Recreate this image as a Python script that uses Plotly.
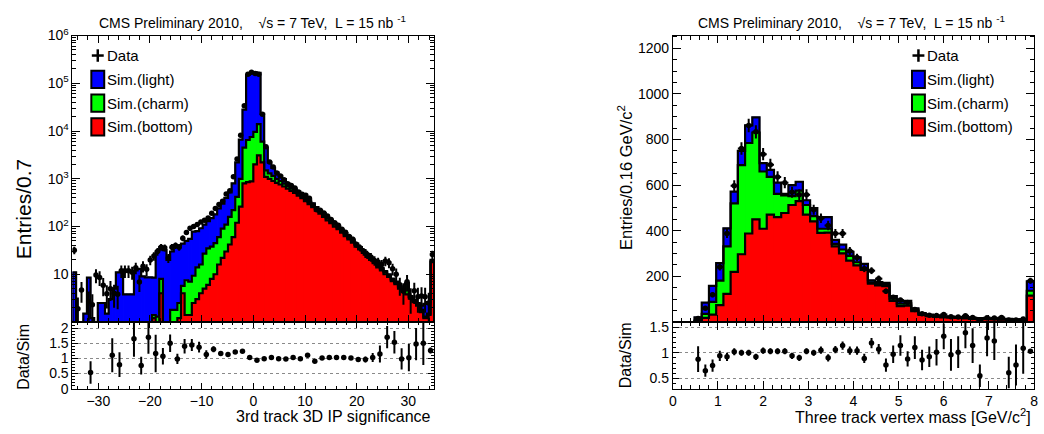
import numpy as np
import plotly.graph_objects as go

W, H = 1044, 434
FONT = "Liberation Sans, Arial, Helvetica, sans-serif"

# ---------------- Left panel: 3rd track 3D IP significance ----------------
ip_lo, ip_hi, ip_binw = -35.0, 35.0, 0.7
# stacked tops: total (light+charm+bottom), charm+bottom, bottom
ip_sim_total = [
    11, 0, 0, 1.5, 8.5, 1.2, 0, 2.5, 2.5, 1.5,
    3, 5, 11, 11, 3.8, 3.8, 3.8, 12, 13, 9,
    8.6, 8.6, 8.5, 30, 37, 32, 20, 30, 38, 40,
    44, 50, 55, 78, 80, 92, 110, 130, 150, 180,
    240, 300, 400, 520, 800, 2200, 6600, 28000, 150000, 165000,
    170000, 165000, 23000, 4500, 2200, 1700, 1350, 1150, 980, 800,
    700, 620, 540, 475, 410, 355, 305, 255, 218, 190,
    160, 138, 118, 103, 86, 73, 62, 53, 44, 37,
    32, 26.5, 22.5, 19, 16, 13.7, 11.6, 9.9, 8.1, 7,
    5.7, 4.9, 6.6, 3.5, 2.9, 2.5, 2.2, 2.4, 2.6, 20]
ip_sim_charm_bottom = [
    0, 0, 0, 0, 0, 0, 0, 0, 0, 0,
    0, 0, 0, 0, 0, 0, 0, 0, 0, 0,
    0, 0, 1.4, 1.3, 8, 0, 0, 1.8, 1.8, 2.5,
    5.7, 7.5, 7, 9.3, 14, 16, 27, 35, 38, 45,
    60, 90, 110, 160, 220, 420, 1000, 4500, 6500, 7500,
    9600, 14000, 6000, 1500, 1300, 1150, 1000, 900, 790, 700,
    625, 560, 490, 435, 375, 325, 280, 235, 202, 175,
    148, 128, 109, 96, 80, 68, 58, 50, 41, 35,
    30, 25, 21, 18, 15, 13, 11, 9.4, 7.7, 6.6,
    5.4, 4.7, 6.3, 3.3, 2.8, 2.4, 1.8, 1.3, 1.5, 19]
ip_sim_bottom = [
    0, 0, 0, 0, 0, 0, 0, 0, 0, 0,
    0, 0, 0, 0, 0, 0, 0, 0, 0, 0,
    0, 0, 1.2, 0, 4, 0, 0, 0, 0, 1.2,
    4, 1.4, 1.4, 2.5, 3, 4, 5, 6, 8, 10,
    16, 22, 30, 42, 60, 120, 260, 800, 850, 880,
    2000, 3100, 2200, 1100, 1000, 900, 820, 760, 690, 620,
    560, 505, 445, 395, 340, 295, 255, 215, 185, 160,
    135, 118, 100, 88, 74, 63, 54, 46, 38, 33,
    28, 23, 20, 17, 14, 12, 10, 8.8, 7.2, 6.2,
    5, 4.4, 3.8, 3.1, 2.6, 2.2, 1.6, 1.2, 1.4, 18]
ip_data = [
    32, 1.9, 4.7, None, 2.7, 2.3, 9.6, 8.6, 5.9, 3.9,
    5, 4, 3.8, 11.8, 11.8, 11.8, 11, 13.7, 6.9, 14.8,
    12.7, 20, 24, 30, 37, 36, 22, 37, 40, 37,
    57, 75, 92, 100, 110, 125, 135, 150, 190, 240,
    290, 340, 480, 560, 1100, 2600, 8200, 34000, 155000, 170000,
    160000, 155000, 22500, 4700, 2250, 1770, 1330, 1140, 960, 785,
    720, 640, 530, 475, 450, 390, 280, 225, 220, 192,
    166, 141, 120, 107, 88, 76, 62, 54, 42, 36,
    30, 26, 23, 19.5, 18, 16, 19, 17.5, 13, 10,
    6, 4.4, 7, 3.3, 4.5, 3.4, 3.5, 3.4, 2.5, 26]
ip_ratio_x = [-31.5, -27.3, -25.9, -23.1, -21.7, -20.3, -18.9, -17.5, -16.1, -14.7,
              -13.3, -11.9, -10.5, -9.1, -7.7, -6.3, -4.9, -3.5, -2.1, -0.7,
              0.7, 2.1, 3.5, 4.9, 6.3, 7.7, 9.1, 10.5, 11.9, 13.3,
              14.7, 16.1, 17.5, 18.9, 20.3, 21.7, 23.1, 24.5, 25.9, 27.3,
              28.7, 30.1, 31.5, 32.9, 34.3]
ip_ratio = [0.53, 1.1, 0.79, 1.65, 0.76, 1.7, 1.16, 1.07, 1.5, 0.98,
            1.4, 1.44, 1.37, 1.13, 1.3, 1.16, 1.13, 1.21, 1.23, 1.03,
            0.94, 0.99, 1.03, 0.99, 0.98, 1.03, 0.99, 1.1, 0.9, 1.01,
            1.03, 1.03, 1.03, 1.01, 0.96, 0.96, 1.03, 1.14, 1.7, 1.53,
            0.98, 1.02, 1.47, 1.5, 1.26]
ip_ratio_err = [0.37, 0.56, 0.41, 0.6, 0.29, 0.55, 0.62, 0.27, 0.29, 0.17,
                0.24, 0.2, 0.18, 0.14, 0.1, 0.08, 0.06, 0.05, 0.04, 0.03,
                0.03, 0.03, 0.03, 0.03, 0.03, 0.03, 0.03, 0.04, 0.04, 0.04,
                0.04, 0.05, 0.05, 0.06, 0.08, 0.1, 0.15, 0.28, 0.37, 0.37,
                0.35, 0.45, 0.53, 0.72, 0.1]

# ---------------- Right panel: three track vertex mass ----------------
m_lo, m_hi, m_binw = 0.0, 8.0, 0.16
m_sim_total = [
    0, 0, 0, 20, 85, 158, 258, 411, 572, 750,
    862, 897, 697, 667, 611, 562, 600, 615, 534, 499,
    460, 460, 360, 339, 308, 283, 255, 183, 175, 172,
    114, 93, 93, 60, 39, 32, 28, 25, 24, 22,
    20, 18, 17, 15, 15, 13, 14, 12, 12, 178]
m_sim_charm_bottom = [
    0, 0, 0, 6, 36, 88, 181, 332, 520, 688,
    785, 831, 660, 636, 562, 555, 552, 576, 513, 464,
    409, 409, 343, 318, 290, 262, 236, 174, 166, 164,
    102, 81, 82, 54, 35, 29, 25, 23, 22, 20,
    18, 16, 15, 14, 13, 12, 12, 11, 11, 137]
m_sim_bottom = [
    0, 0, 0, 3, 18, 32, 74, 123, 220, 297,
    388, 450, 409, 471, 460, 478, 513, 530, 471, 441,
    391, 392, 332, 301, 269, 248, 228, 168, 160, 157,
    92, 70, 72, 48, 31, 26, 22, 20, 19, 18,
    16, 14, 13, 12, 12, 10, 10, 9, 9, 116]
m_data = [
    None, None, None, 15, 60, 120, 241, 388, 597, 761,
    862, 834, 736, 690, 636, 611, 569, 558, 558, 492,
    455, 423, 388, 388, 311, 283, 234, 225, 190, 135,
    108, 96, 85, 55, 36, 30, 29, 33, 23, 22,
    27, 20, 9, 19, 18, 20, 8.5, 9, 13, 181]
m_ratio_x = [0.56, 0.72, 0.88, 1.04, 1.2, 1.36, 1.52, 1.68, 1.84, 2.0,
             2.16, 2.32, 2.48, 2.64, 2.8, 2.96, 3.12, 3.28, 3.44, 3.6,
             3.76, 3.92, 4.08, 4.24, 4.4, 4.56, 4.72, 4.88, 5.04, 5.2,
             5.36, 5.52, 5.68, 5.84, 6.0, 6.16, 6.32, 6.48, 6.64, 6.8,
             6.96, 7.12, 7.44, 7.6, 7.76, 7.92]
m_ratio = [0.875, 0.65, 0.75, 0.94, 0.92, 1.02, 1.0, 1.0, 0.92, 1.04,
           1.03, 1.03, 1.03, 0.94, 0.9, 1.03, 1.0, 1.05, 0.9, 1.06,
           1.14, 1.04, 1.04, 0.89, 1.19, 1.07, 0.76, 0.97, 1.14, 0.88,
           1.1, 0.86, 0.92, 1.01, 1.32, 0.96, 1.01, 1.39, 1.14, 0.55,
           1.29, 1.23, 0.61, 0.76, 1.09, 1.03]
m_ratio_err = [0.25, 0.12, 0.12, 0.1, 0.08, 0.07, 0.06, 0.06, 0.06, 0.06,
               0.06, 0.06, 0.06, 0.06, 0.06, 0.06, 0.06, 0.07, 0.07, 0.07,
               0.08, 0.08, 0.08, 0.09, 0.1, 0.1, 0.13, 0.17, 0.2, 0.15,
               0.22, 0.2, 0.2, 0.26, 0.25, 0.31, 0.31, 0.3, 0.34, 0.22,
               0.36, 0.37, 0.31, 0.4, 0.5, 0.02]

COLORS = ["#0000FF", "#00FF00", "#FF0000"]
LEGEND_LABELS = ["Sim.(light)", "Sim.(charm)", "Sim.(bottom)"]
TITLE = "CMS Preliminary 2010,\u00a0\u00a0\u00a0 \u221as = 7 TeV,\u00a0 L = 15 nb <sup>-1</sup>"


def fx(p):
    return p / W


def fy(p):
    return 1 - p / H


fig = go.Figure()


def add_hist(xa, ya, lo, w, tops, floor):
    n = len(tops[0])
    centers = [lo + w * (i + 0.5) for i in range(n)]
    edges = [lo + w * i for i in range(n + 1)]
    for vals, col in zip(tops, COLORS):
        fig.add_trace(go.Bar(
            x=centers, y=[v if v > 0 else None for v in vals], width=w,
            marker=dict(color=col, line=dict(color=col, width=1.2)),
            xaxis=xa, yaxis=ya, showlegend=False, hoverinfo="skip"))
    for vals in tops:
        xs = [edges[0]] + edges[:n] + [edges[n]]
        ys = [floor] + [v if v > 0 else floor for v in vals] + [floor]
        fig.add_trace(go.Scatter(
            x=xs, y=ys, mode="lines", line=dict(color="black", width=2.2, shape="hv"),
            xaxis=xa, yaxis=ya, showlegend=False, hoverinfo="skip"))
    return centers


def add_data(xa, ya, centers, data, w):
    err = [None if d is None else float(np.sqrt(d)) for d in data]
    fig.add_trace(go.Scatter(
        x=centers, y=data, mode="markers",
        marker=dict(color="black", size=5.5),
        error_y=dict(type="data", array=err, thickness=2, width=0, color="black"),
        error_x=dict(type="constant", value=w / 2, thickness=2, width=0, color="black"),
        xaxis=xa, yaxis=ya, showlegend=False, hoverinfo="skip"))


def add_ratio(xa, ya, xs, r, e):
    fig.add_trace(go.Scatter(
        x=xs, y=r, mode="markers", marker=dict(color="black", size=5.5),
        error_y=dict(type="data", array=e, thickness=2, width=0, color="black"),
        xaxis=xa, yaxis=ya, showlegend=False, hoverinfo="skip"))


c_ip = add_hist("x", "y", ip_lo, ip_binw, [ip_sim_total, ip_sim_charm_bottom, ip_sim_bottom], 0.01)
add_data("x", "y", c_ip, ip_data, ip_binw)
add_ratio("x2", "y2", ip_ratio_x, ip_ratio, ip_ratio_err)

c_m = add_hist("x3", "y3", m_lo, m_binw, [m_sim_total, m_sim_charm_bottom, m_sim_bottom], 0)
add_data("x3", "y3", c_m, m_data, m_binw)
add_ratio("x4", "y4", m_ratio_x, m_ratio, m_ratio_err)

LEFT = [fx(69), fx(433.5)]
RIGHT = [fx(674), fx(1038)]
MAIN = [fy(325.5), fy(26.7)]
RATIO = [fy(395), fy(325.5)]

tickfont = dict(family=FONT, size=14, color="black")
base = dict(showline=True, linecolor="black", linewidth=1, mirror="allticks",
            ticks="inside", tickcolor="black", tickwidth=1, showgrid=False,
            zeroline=False, tickfont=tickfont)
minor = lambda d, l: dict(dtick=d, tick0=0, ticks="inside", ticklen=l, tickcolor="black", tickwidth=1, showgrid=False)
grid = dict(showgrid=True, gridcolor="#8a8a8a", griddash="dot", gridwidth=1)

fig.update_layout(
    width=W, height=H, margin=dict(l=0, r=0, t=0, b=0), autosize=False,
    paper_bgcolor="white", plot_bgcolor="white", barmode="overlay",
    font=dict(family=FONT, color="black"),
    xaxis=dict(base, domain=LEFT, anchor="y", range=[ip_lo, ip_hi], dtick=10, tick0=0,
               ticklen=7, minor=minor(2, 4), showticklabels=False),
    yaxis=dict(base, domain=MAIN, anchor="x", type="log", range=[0, 6],
               tickvals=[10, 100, 1e3, 1e4, 1e5, 1e6],
               ticktext=["10", "10<sup>2</sup>", "10<sup>3</sup>", "10<sup>4</sup>",
                         "10<sup>5</sup>", "10<sup>6</sup>"],
               ticklen=8, minor=dict(ticks="inside", ticklen=4, tickcolor="black", dtick="D1", showgrid=False)),
    xaxis2=dict(base, domain=LEFT, anchor="y2", range=[ip_lo, ip_hi], dtick=10, tick0=0,
                ticklen=6, minor=minor(2, 3)),
    yaxis2=dict(base, **grid, domain=RATIO, anchor="x2", range=[0, 2.2],
                tickvals=[0, 0.5, 1, 1.5, 2], ticktext=["0", "0.5", "1", "1.5", "2"],
                ticklen=6, minor=minor(0.1, 3)),
    xaxis3=dict(base, domain=RIGHT, anchor="y3", range=[m_lo, m_hi], dtick=1, tick0=0,
                ticklen=7, minor=minor(0.2, 4), showticklabels=False),
    yaxis3=dict(base, domain=MAIN, anchor="x3", range=[0, 1256],
                tickvals=[200, 400, 600, 800, 1000, 1200], ticklen=8, minor=minor(50, 4)),
    xaxis4=dict(base, domain=RIGHT, anchor="y4", range=[m_lo, m_hi], dtick=1, tick0=0,
                ticklen=8, minor=minor(0.2, 4)),
    yaxis4=dict(base, **grid, domain=RATIO, anchor="x4", range=[0.3, 1.6],
                tickvals=[0.5, 1, 1.5], ticktext=["0.5", "1", "1.5"],
                ticklen=6, minor=minor(0.1, 3)),
)

ann = []
shapes = []


def text(x, y, s, size, xanchor="center", angle=0):
    ann.append(dict(x=fx(x), y=fy(y), xref="paper", yref="paper", text=s, showarrow=False,
                    xanchor=xanchor, yanchor="middle", textangle=angle,
                    font=dict(family=FONT, size=size, color="black")))


# titles
text(250, 13, TITLE, 14)
text(854, 13, TITLE, 14)
# axis titles
text(432, 424, "3rd track 3D IP significance", 16, xanchor="right")
text(1037, 424, "Three track vertex mass [GeV/c<sup>2</sup>]", 16, xanchor="right")
text(20, 208, "Entries/0.7", 21, angle=-90)
text(626, 175, "Entries/0.16 GeV/c<sup>2</sup>", 16.5, angle=-90)
text(20, 362, "Data/Sim", 16, angle=-90)
text(626, 360, "Data/Sim", 16, angle=-90)


def legend(xbox, xtext, ycross):
    cx = xbox + 6.5
    shapes.append(dict(type="line", xref="paper", yref="paper", x0=fx(cx), x1=fx(cx),
                       y0=fy(ycross - 6.5), y1=fy(ycross + 6.5), line=dict(color="black", width=2.5)))
    shapes.append(dict(type="line", xref="paper", yref="paper", x0=fx(cx - 6), x1=fx(cx + 6),
                       y0=fy(ycross), y1=fy(ycross), line=dict(color="black", width=2.5)))
    text(xtext, ycross, "Data", 15, xanchor="left")
    for k, (col, lab) in enumerate(zip(COLORS, LEGEND_LABELS)):
        yc = ycross + 24.8 * (k + 1)
        shapes.append(dict(type="rect", xref="paper", yref="paper", x0=fx(xbox), x1=fx(xbox + 13),
                           y0=fy(yc - 9), y1=fy(yc + 9), fillcolor=col, line=dict(color="black", width=2)))
        text(xtext, yc, lab, 15, xanchor="left")


legend(88, 101.5, 47.5)
legend(915, 928.5, 47.5)

fig.update_layout(annotations=ann, shapes=shapes)
fig.write_html("out.html")
